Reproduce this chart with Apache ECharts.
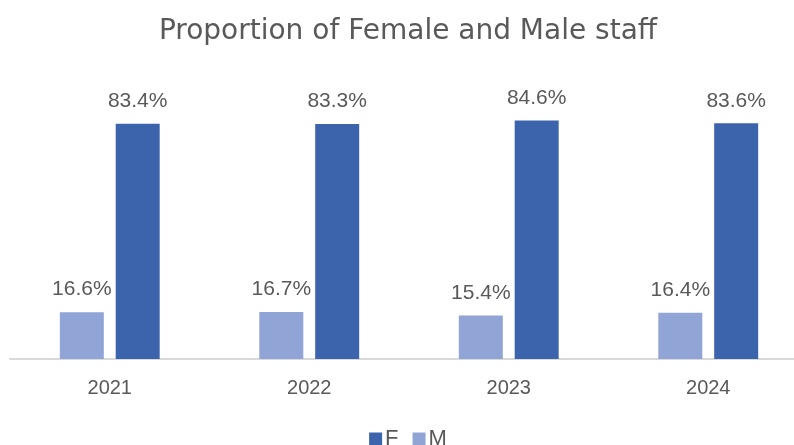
<!DOCTYPE html>
<html>
<head>
<meta charset="utf-8">
<script src="https://cdn.jsdelivr.net/npm/echarts@6/dist/echarts.min.js"></script>
<style>
  html, body { margin: 0; padding: 0; background: #fff; overflow: hidden; }
  #chart { width: 816px; height: 445px; }
</style>
</head>
<body>
<div id="chart"></div>
<script>
// Chart data
const years = ['2021', '2022', '2023', '2024'];
const maleShare = [16.6, 16.7, 15.4, 16.4];
const femaleShare = [83.4, 83.3, 84.6, 83.6];

const FONT = "'Liberation Sans', Arial, sans-serif";
const TEXT_COLOR = '#595959';

const chart = echarts.init(document.getElementById('chart'));

const labelStyle = {
    show: true,
    position: 'top',
    distance: 12,
    color: TEXT_COLOR,
    fontSize: 21,
    fontFamily: FONT,
    formatter: p => p.value.toFixed(1) + '%'
};

chart.setOption({
    animation: false,
    title: {
        text: 'Proportion of Female and Male staff',
        left: 'center',
        top: 13,
        textStyle: { color: TEXT_COLOR, fontSize: 28, fontWeight: 'normal', fontFamily: "'DejaVu Sans', sans-serif" }
    },
    legend: {
        data: ['F', 'M'],
        top: 423,
        left: 'center',
        itemWidth: 13,
        itemHeight: 13,
        itemGap: 14,
        icon: 'rect',
        textStyle: { color: TEXT_COLOR, fontSize: 22, fontFamily: FONT, padding: [0, 0, 0, -2] }
    },
    grid: { left: 10, right: 8, top: 77, bottom: 86 },
    xAxis: {
        type: 'category',
        data: years,
        axisTick: { show: false },
        axisLine: { lineStyle: { color: '#d9d9d9', width: 2 } },
        axisLabel: { color: TEXT_COLOR, fontSize: 20, fontFamily: FONT, margin: 19 }
    },
    yAxis: {
        type: 'value',
        min: 0,
        max: 100,
        show: false,
        splitLine: { show: false }
    },
    series: [
        {
            name: 'M',
            type: 'bar',
            data: maleShare,
            barWidth: 44,
            barGap: '27%',
            itemStyle: { color: '#91a4d6' },
            label: labelStyle
        },
        {
            name: 'F',
            type: 'bar',
            data: femaleShare,
            barWidth: 44,
            barGap: '27%',
            itemStyle: { color: '#3c64ad' },
            label: labelStyle
        }
    ]
});
</script>
</body>
</html>
